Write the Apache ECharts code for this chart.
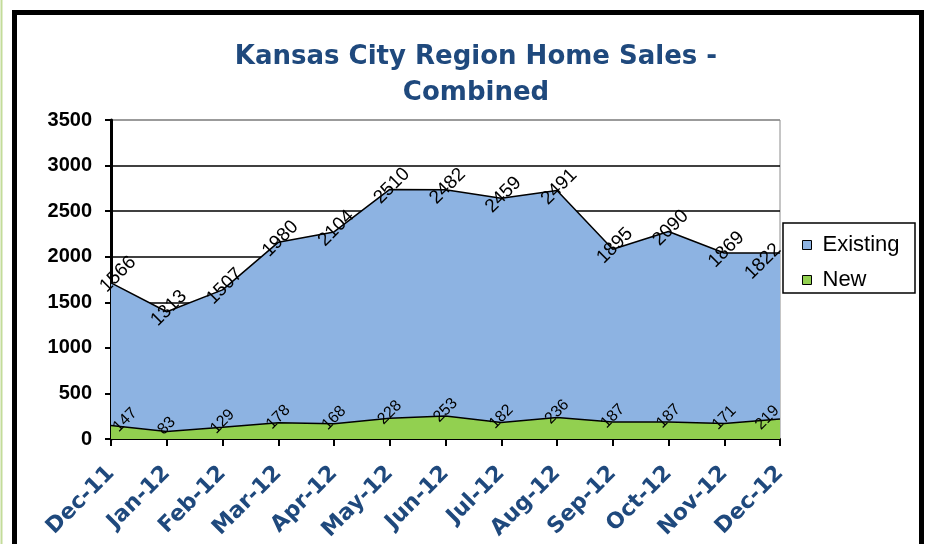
<!DOCTYPE html>
<html>
<head>
	<meta charset="utf-8">
	<title>Kansas City Region Home Sales</title>
	<script src="https://cdn.jsdelivr.net/npm/echarts@6/dist/echarts.min.js"></script>
	<style>
		html, body { margin: 0; height: 100%; background: #fff; }
		#main { width: 928px; height: 544px; }
	</style>
</head>
<body>
	<div id="main"></div>
	<script type="text/javascript">
		// data
		var months = ['Dec-11', 'Jan-12', 'Feb-12', 'Mar-12', 'Apr-12', 'May-12', 'Jun-12',
			'Jul-12', 'Aug-12', 'Sep-12', 'Oct-12', 'Nov-12', 'Dec-12'];
		var existing = [1566, 1313, 1507, 1980, 2104, 2510, 2482, 2459, 2491, 1895, 2090, 1869, 1822];
		var newSales = [147, 83, 129, 178, 168, 228, 253, 182, 236, 187, 187, 171, 219];
		var yTicks = [0, 500, 1000, 1500, 2000, 2500, 3000, 3500];

		// labels at the two ends are pushed inward, like in the original
		function withEndLabels(values, first, last) {
			return values.map(function (v, i) {
				if (i === 0) return { value: v, label: { offset: first } };
				if (i === values.length - 1) return { value: v, label: { offset: last } };
				return v;
			});
		}

		var myChart = echarts.init(document.getElementById('main'));

		var option = {
			backgroundColor: '#fff',
			animation: false,
			title: {
				text: 'Kansas City Region Home Sales -\nCombined',
				left: 471,
				textAlign: 'center',
				top: 34,
				textStyle: {
					fontFamily: 'DejaVu Sans',
					fontWeight: 'bold',
					fontSize: 26,
					lineHeight: 36,
					color: '#1F497D'
				}
			},
			legend: {
				data: ['Existing', 'New'],
				orient: 'vertical',
				left: 797,
				top: 229,
				itemGap: 13,
				icon: 'rect',
				itemWidth: 9,
				itemHeight: 9,
				itemStyle: { borderColor: '#000', borderWidth: 1 },
				textStyle: {
					fontFamily: 'Liberation Sans',
					fontSize: 22,
					color: '#000',
					padding: [0, 0, 0, 6]
				}
			},
			grid: {
				left: 111,
				right: 148,
				top: 120,
				bottom: 105,
				show: true,
				borderColor: '#8c8c8c',
				borderWidth: 1,
				backgroundColor: '#fff'
			},
			xAxis: {
				type: 'category',
				data: months,
				boundaryGap: false,
				axisLine: { lineStyle: { color: '#000', width: 2 } },
				axisTick: { show: true, length: 7, lineStyle: { color: '#000', width: 2 } },
				axisLabel: {
					rotate: 45,
					margin: 31,
					fontFamily: 'DejaVu Sans',
					fontWeight: 'bold',
					fontSize: 22,
					color: '#1F497D'
				}
			},
			yAxis: {
				type: 'value',
				min: yTicks[0],
				max: yTicks[yTicks.length - 1],
				interval: 500,
				axisLine: { show: true, lineStyle: { color: '#000', width: 3 } },
				axisTick: { show: true, length: 6, lineStyle: { color: '#000', width: 2 } },
				axisLabel: {
					margin: 19,
					formatter: function (v) { return String(v); },
					fontFamily: 'Liberation Sans',
					fontWeight: 'bold',
					fontSize: 20,
					color: '#000'
				},
				splitLine: {
					show: true,
					lineStyle: {
						color: ['#000', '#000', '#000', '#000', '#000', '#000', '#000', '#8c8c8c'],
						width: 1.5
					}
				}
			},
			series: [
				{
					name: 'New',
					type: 'line',
					stack: 'total',
					data: withEndLabels(newSales, [14, 6], [-8, -10]),
					symbol: 'circle',
					symbolSize: 0.1,
					showSymbol: true,
					lineStyle: { color: '#000', width: 1.5 },
					itemStyle: { color: '#92D050' },
					areaStyle: { color: '#92D050', opacity: 1 },
					label: {
						show: true,
						position: 'inside',
						rotate: 45,
						offset: [4, -4], // offset is in the rotated frame
						fontFamily: 'Liberation Sans',
						fontSize: 16,
						color: '#000'
					},
					z: 3
				},
				{
					name: 'Existing',
					type: 'line',
					stack: 'total',
					data: withEndLabels(existing, [11, -1], [-18, -6]),
					symbol: 'circle',
					symbolSize: 0.1,
					showSymbol: true,
					lineStyle: { color: '#000', width: 1.5 },
					itemStyle: { color: '#8DB3E2' },
					areaStyle: { color: '#8DB3E2', opacity: 1 },
					label: {
						show: true,
						position: 'inside',
						rotate: 45,
						offset: [4, -1],
						fontFamily: 'Liberation Sans',
						fontSize: 19,
						color: '#000'
					},
					z: 2
				}
			],
			graphic: [
				{ // outer frame
					type: 'rect',
					shape: { x: 14.5, y: 12.5, width: 907, height: 545 },
					style: { fill: null, stroke: '#000', lineWidth: 5 },
					silent: true
				},
				{
					type: 'line',
					shape: { x1: 1.5, y1: 0, x2: 1.5, y2: 544 },
					style: { stroke: '#c3dc9a', lineWidth: 2 },
					silent: true
				},
				{ // legend box
					type: 'rect',
					shape: { x: 783, y: 223, width: 132, height: 70 },
					style: { fill: null, stroke: '#000', lineWidth: 1.5 },
					silent: true,
					z: 10
				}
			]
		};

		myChart.setOption(option);
	</script>
</body>
</html>
